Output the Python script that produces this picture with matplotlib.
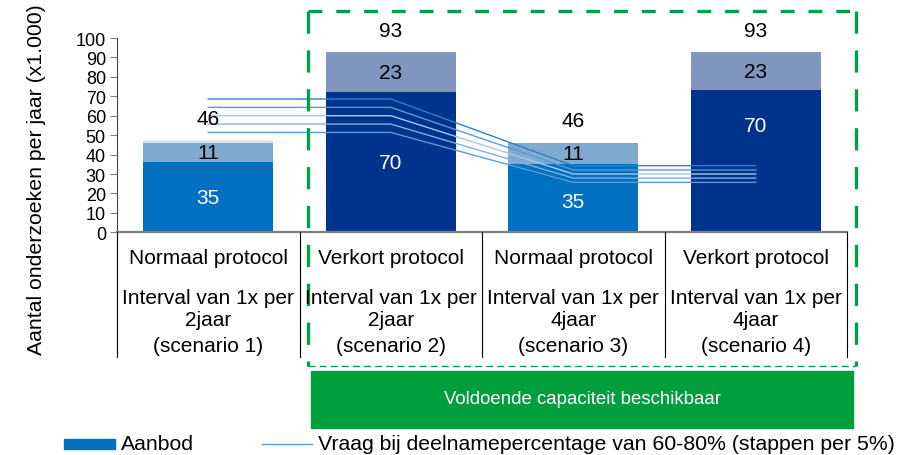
import matplotlib.pyplot as plt
import matplotlib.transforms as mtransforms
from matplotlib.patches import Rectangle
from matplotlib.lines import Line2D

plt.rcParams['font.family'] = ['Liberation Sans', 'DejaVu Sans']
plt.rcParams['lines.scale_dashes'] = False

# data
protocol = ['Normaal protocol', 'Verkort protocol', 'Normaal protocol', 'Verkort protocol']
interval = ['Interval van 1x per\n2jaar', 'Interval van 1x per\n2jaar',
            'Interval van 1x per\n4jaar', 'Interval van 1x per\n4jaar']
scenario = ['(scenario 1)', '(scenario 2)', '(scenario 3)', '(scenario 4)']

aanbod = [36.2, 72.2, 35.2, 73.4]      # bar heights as drawn
extra = [9.8, 20.4, 10.8, 19.2]
rand = [1.3, 0, 0, 0]                  # light strip on top of bar 1
aanbod_lbl = ['35', '70', '35', '70']
extra_lbl = ['11', '23', '11', '23']
totaal_lbl = ['46', '93', '46', '93']

vraag_60 = [51.4, 51.4, 25.7, 25.7]
vraag_65 = [55.7, 55.7, 27.9, 27.9]
vraag_70 = [60.0, 60.0, 30.0, 30.0]
vraag_75 = [64.3, 64.3, 32.1, 32.1]
vraag_80 = [68.6, 68.6, 34.3, 34.3]
vraag = [vraag_80, vraag_75, vraag_70, vraag_65, vraag_60]

base_col = ['#0070C0', '#00338D', '#0070C0', '#00338D']
top_col = ['#80AACF', '#8096BE', '#80AACF', '#8096BE']
line_col = ['#2F7FC8', '#5B9BD5', '#A5C8EA', '#7FB0E0', '#5B9BD5']
green = '#00A04A'

W, H = 913, 456
fig = plt.figure(figsize=(W / 100, H / 100), dpi=100)
ax = fig.add_axes([117 / W, 1 - 233.3 / H, 730 / W, 194.3 / H])

x = list(range(4))
bw = 0.71
ax.bar(x, aanbod, bw, color=base_col, zorder=2)
ax.bar(x, extra, bw, bottom=aanbod, color=top_col, zorder=2)
tops = [a + e for a, e in zip(aanbod, extra)]
ax.bar(x, rand, bw, bottom=tops, color='#DDE3EA', zorder=2)

for vals, c in zip(vraag, line_col):
    ax.plot(x, vals, color=c, lw=1, zorder=3)

lab_frac = [0.5, 0.5, 0.45, 0.75]
for i in x:
    ax.text(i, aanbod[i] * lab_frac[i], aanbod_lbl[i], color='white', fontsize=15,
            ha='center', va='center', zorder=4)
    ax.text(i, aanbod[i] + extra[i] / 2, extra_lbl[i], color='black', fontsize=15,
            ha='center', va='center', zorder=4)
    ax.text(i, tops[i] + rand[i] + 11.5, totaal_lbl[i], color='black', fontsize=15,
            ha='center', va='center', zorder=4, clip_on=False)

ax.set_xlim(-0.5, 3.5)
ax.set_ylim(0, 100)
ax.set_yticks(range(0, 101, 10))
ax.tick_params(axis='y', labelsize=13, length=5, color='#808080', pad=3)
ax.set_xticks([])
for s in ['top', 'right']:
    ax.spines[s].set_visible(False)
ax.spines['left'].set_color('#404040')
ax.spines['bottom'].set_color('#808080')
ax.spines['bottom'].set_linewidth(1.6)
ax.spines['bottom'].set_zorder(5)

# category table below the axis
tr = mtransforms.blended_transform_factory(ax.transData, fig.transFigure)
for b in [-0.5, 0.5, 1.5, 2.5, 3.5]:
    fig.add_artist(Line2D([b, b], [1 - 233.3 / H, 1 - 358 / H], transform=tr,
                          color='black', lw=0.8))
for i in x:
    fig.text(i, 1 - 259 / H, protocol[i], transform=tr, ha='center', va='center', fontsize=15)
    fig.text(i, 1 - 310 / H, interval[i], transform=tr, ha='center', va='center',
             fontsize=15, linespacing=1.2)
    fig.text(i, 1 - 347 / H, scenario[i], transform=tr, ha='center', va='center', fontsize=15)

fig.text(37 / W, 1 - 180 / H, 'Aantal onderzoeken per jaar (x1.000)', rotation=90,
         ha='center', va='center', fontsize=15.3)

# green dashed frame and box
def px(xp, yp):
    return xp / W, 1 - yp / H

x0, x1, y0, y1 = 308, 856, 12, 367
for (xa, ya), (xb, yb), lw, dash in [((x0, y0), (x1, y0), 2.4, (10, 10)),
                                     ((x0, y0), (x0, y1), 2.4, (16, 12)),
                                     ((x1, y0), (x1, y1), 2.4, (16, 12)),
                                     ((x0, y1), (x1, y1), 1.0, (5, 3))]:
    fig.add_artist(Line2D([xa / W, xb / W], [1 - ya / H, 1 - yb / H], color=green,
                          lw=lw, linestyle=(0, dash)))

fig.add_artist(Rectangle(px(311, 429), 542 / W, 57 / H, color='#009E3D'))
fig.text(582 / W, 1 - 400 / H, 'Voldoende capaciteit beschikbaar', color='white',
         ha='center', va='center', fontsize=13.4)

# legend
fig.add_artist(Rectangle(px(64, 450), 51 / W, 10 / H, color='#0070C0'))
fig.text(121 / W, 1 - 445 / H, 'Aanbod', ha='left', va='center', fontsize=15.3)
fig.add_artist(Line2D([262 / W, 312 / W], [1 - 445 / H, 1 - 445 / H], color='#5B9BD5', lw=1))
fig.text(318 / W, 1 - 445 / H, 'Vraag bij deelnamepercentage van 60-80% (stappen per 5%)',
         ha='left', va='center', fontsize=15.3)

fig.savefig('out.png', dpi=100)
